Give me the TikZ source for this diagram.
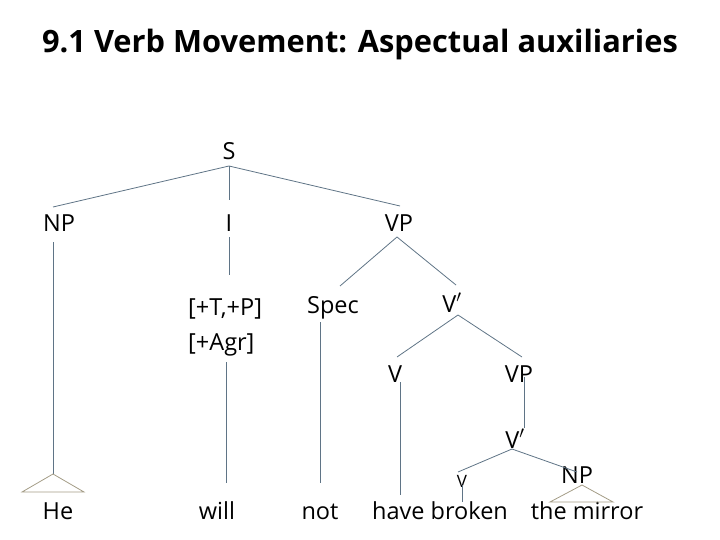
\documentclass[tikz,border=0pt]{standalone}
\usepackage{fontspec}
\setmainfont{Open Sans}
\definecolor{branch}{HTML}{5F7486}
\definecolor{roof}{HTML}{A39C86}
\begin{document}
\begin{tikzpicture}[x=1pt,y=-1pt,
  lbl/.style={anchor=base,inner xsep=0pt,inner ysep=5pt,font=\fontsize{23.5}{28}\selectfont},
  ttl/.style={anchor=base,inner sep=0pt,font=\fontsize{30.8}{36}\selectfont\bfseries},
  br/.style={draw=branch,line width=0.8pt},
  tri/.style={draw=roof,line width=0.8pt}]
\useasboundingbox (0,0) rectangle (720,540);
\node[ttl] (title) at (360,53) {9.1 Verb Movement: Aspectual auxiliaries};
% nodes
\node[lbl] (S) at (229,160) {S};
\node[lbl] (NP) at (59,232) {NP};
\node[lbl] (I) at (229,232) {I};
\node[lbl] (VP) at (399,232) {VP};
\node[lbl,anchor=base west] (featA) at (188,315) {[+T,+P]};
\node[lbl,anchor=base west] (featB) at (188,350) {[+Agr]};
\node[lbl] (Spec) at (333,313) {Spec};
\node[lbl] (Vbar) at (452,312) {V$'$};
\node[lbl] (V) at (395,382) {V};
\node[lbl] (VPb) at (519,382) {VP};
\node[lbl] (Vbarb) at (515,448) {V$'$};
\node[lbl,font=\fontsize{17}{20}\selectfont] (v) at (462,487) {V};
\node[lbl] (NPb) at (577,483) {NP};
\node[lbl] (He) at (58,519) {He};
\node[lbl] (will) at (217,519) {will};
\node[lbl] (not) at (320,519) {not};
\node[lbl] (hb) at (440,519) {have broken};
\node[lbl] (tm) at (587,519) {the mirror};
% roof apexes
\coordinate (roofHe) at ([xshift=-5pt,yshift=45pt]He.base);
\coordinate (roofNP) at ([xshift=5pt,yshift=-2pt]NPb.base);
% branches
\draw[br] ([yshift=-6pt]S.base) -- ([xshift=-6pt,yshift=25pt]NP.base);
\draw[br] ([yshift=-6pt]S.base) -- ([yshift=32pt]I.base);
\draw[br] ([yshift=-6pt]S.base) -- ([xshift=1pt,yshift=26pt]VP.base);
\draw[br] ([yshift=-5pt]I.base) -- ([yshift=-43pt]I.base);
\draw[br] ([xshift=-6pt,yshift=-10pt]NP.base) -- (roofHe);
\draw[tri] (roofHe) -- ++(-31,18) -- ++(62,0) -- cycle;
\draw[br] ([xshift=9pt,yshift=157pt]will.base) -- ([xshift=9pt,yshift=36pt]will.base);
\draw[br] ([xshift=-2pt,yshift=-5pt]VP.base) -- ([xshift=7pt,yshift=27pt]Spec.base);
\draw[br] ([xshift=-2pt,yshift=-5pt]VP.base) -- ([xshift=4pt,yshift=27pt]Vbar.base);
\draw[br] ([xshift=-13pt,yshift=-9pt]Spec.base) -- ([yshift=36pt]not.base);
\draw[br] ([xshift=6pt,yshift=-3pt]Vbar.base) -- ([xshift=2pt,yshift=25pt]V.base);
\draw[br] ([xshift=6pt,yshift=-3pt]Vbar.base) -- ([xshift=3pt,yshift=25pt]VPb.base);
\draw[br] ([xshift=5pt]V.base) -- ([xshift=-40pt,yshift=24pt]hb.base);
\draw[br] ([xshift=5pt,yshift=5pt]VPb.base) -- ([xshift=9pt,yshift=20pt]Vbarb.base);
\draw[br] ([xshift=-3pt,yshift=-1pt]Vbarb.base) -- ([xshift=-4pt,yshift=15pt]v.base);
\draw[br] ([xshift=-3pt,yshift=-1pt]Vbarb.base) -- ([yshift=11pt]NPb.base);
\draw[br] ([yshift=2pt]v.base) -- ([xshift=22pt,yshift=17pt]hb.base);
\draw[tri] (roofNP) -- ++(-32,17) -- ++(63,0) -- cycle;
\end{tikzpicture}
\end{document}
